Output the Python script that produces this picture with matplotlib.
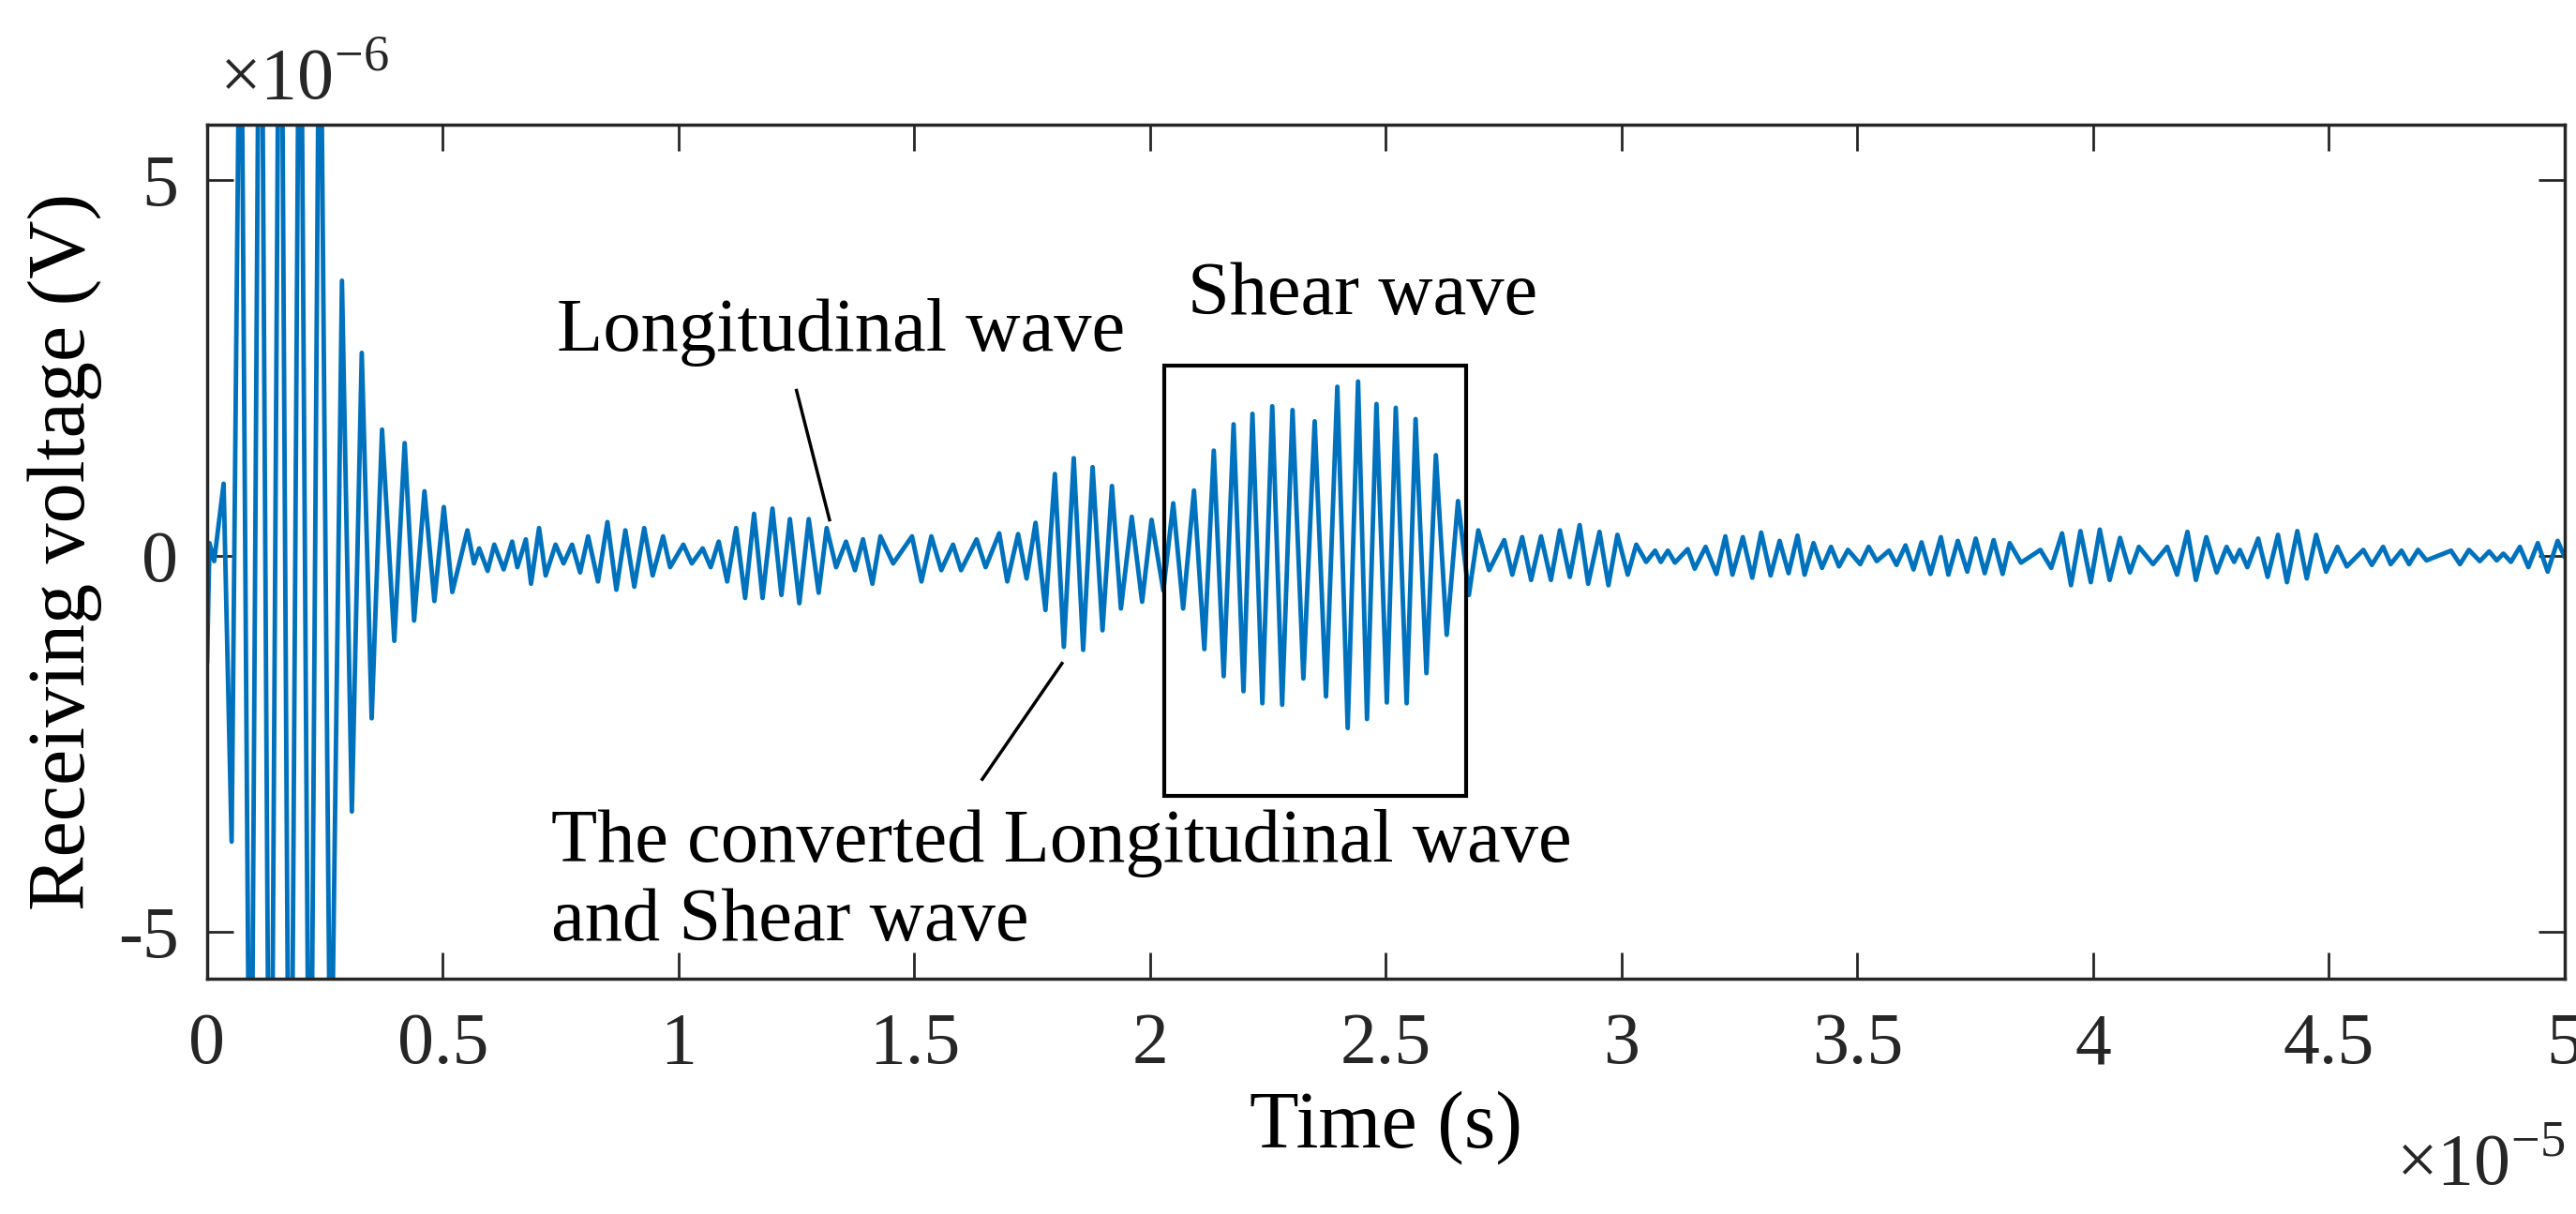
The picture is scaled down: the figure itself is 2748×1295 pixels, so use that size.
import numpy as np
import matplotlib
matplotlib.use("Agg")
import matplotlib.pyplot as plt
from matplotlib.patches import Rectangle

# Extrema of the received waveform (time in us, voltage in uV)
early_t = [0.0, 0.05, 0.15, 0.35, 0.52, 0.71, 0.92, 1.13, 1.34, 1.55, 1.76, 1.97, 2.18,
           2.39, 2.62, 2.86, 3.07, 3.28, 3.49, 3.71, 3.97, 4.19, 4.39, 4.61, 4.82, 5.02, 5.2]
early_v = [-1.4, 0.17, -0.07, 0.96, -3.8, 9.0, -10.0, 11.0, -11.0, 11.0, -11.0, 10.0, -10.0,
           9.0, -8.0, 3.66, -3.4, 2.7, -2.16, 1.68, -1.13, 1.5, -0.86, 0.86, -0.6, 0.65, -0.48]

long_t = [5.52, 5.66, 5.77, 5.95, 6.09, 6.29, 6.47, 6.58, 6.76, 6.87, 7.04, 7.18, 7.39, 7.56,
          7.74, 7.91, 8.08, 8.29, 8.49, 8.68, 8.87, 9.06, 9.27, 9.45, 9.67, 9.82, 10.1, 10.28,
          10.51, 10.68, 10.85, 11.03, 11.22, 11.41, 11.6, 11.78, 11.99, 12.18, 12.36, 12.56,
          12.76, 12.97, 13.14, 13.34, 13.55, 13.74, 13.91, 14.11, 14.28, 14.55, 14.95, 15.15,
          15.36, 15.57, 15.82, 15.99, 16.32, 16.51, 16.8, 16.97]
long_v = [0.34, -0.1, 0.1, -0.2, 0.15, -0.18, 0.19, -0.15, 0.22, -0.37, 0.37, -0.26, 0.15, -0.1,
          0.15, -0.22, 0.26, -0.34, 0.45, -0.45, 0.34, -0.41, 0.37, -0.26, 0.26, -0.15, 0.15, -0.1,
          0.1, -0.15, 0.19, -0.34, 0.37, -0.56, 0.56, -0.56, 0.63, -0.52, 0.49, -0.63,
          0.49, -0.49, 0.37, -0.15, 0.19, -0.19, 0.22, -0.37, 0.26, -0.1, 0.26, -0.34,
          0.26, -0.19, 0.15, -0.19, 0.22, -0.15, 0.3, -0.34]

shear_t = [17.2, 17.38, 17.57, 17.78, 17.98, 18.17, 18.38, 18.58, 18.78, 18.99, 19.19, 19.38,
           19.61, 19.83, 20.03, 20.28, 20.49, 20.7, 20.93, 21.15, 21.35, 21.56, 21.77, 21.98,
           22.17, 22.38, 22.59, 22.8, 23.02, 23.25, 23.49, 23.73, 23.97, 24.19, 24.41, 24.6,
           24.8, 25.02, 25.21, 25.44, 25.63, 25.86, 26.06, 26.29, 26.53, 26.76, 26.96, 27.19]
shear_v = [0.29, -0.3, 0.44, -0.72, 1.09, -1.21, 1.3, -1.25, 1.18, -0.99, 0.93, -0.7,
           0.52, -0.61, 0.48, -0.46, 0.7, -0.7, 0.87, -1.24, 1.4, -1.6, 1.75, -1.8,
           1.89, -1.96, 1.99, -1.98, 1.94, -1.63, 1.79, -1.87, 2.25, -2.29, 2.32, -2.17,
           2.02, -1.95, 1.97, -1.96, 1.82, -1.56, 1.34, -1.05, 0.73, -0.52, 0.34, -0.19]

tail_t = [27.51, 27.68, 27.89, 28.08, 28.29, 28.5, 28.69, 28.9, 29.11, 29.29, 29.53, 29.72,
          29.91, 30.13, 30.31, 30.52, 30.71, 30.83, 30.98, 31.13, 31.4, 31.55, 31.78, 32.01,
          32.2, 32.35, 32.57, 32.77, 32.96, 33.16, 33.35, 33.54, 33.73, 33.88, 34.07, 34.25,
          34.44, 34.61, 34.8, 35.06, 35.24, 35.41, 35.67, 35.83, 36.02, 36.19, 36.36, 36.55,
          36.77, 36.93, 37.13, 37.33, 37.51, 37.7, 37.89, 38.08,
          38.23, 38.47, 38.88, 39.11, 39.34, 39.53, 39.73, 39.95, 40.14, 40.35, 40.57, 40.78,
          40.97, 41.27, 41.57, 41.78, 42.0, 42.18, 42.4, 42.62, 42.83, 42.99, 43.11, 43.27,
          43.5, 43.7, 43.92, 44.11, 44.33, 44.53, 44.73, 44.94, 45.18, 45.38, 45.73, 45.91,
          46.15, 46.31, 46.54, 46.7, 46.89, 47.07, 47.59, 47.78, 47.97, 48.2, 48.4, 48.56,
          48.7, 48.86, 49.05, 49.23, 49.43, 49.64, 49.85, 49.99]
tail_v = [0.21, -0.25, 0.25, -0.32, 0.26, -0.32, 0.34, -0.28, 0.41, -0.37, 0.32, -0.39,
          0.28, -0.25, 0.15, -0.08, 0.07, -0.08, 0.07, -0.09, 0.09, -0.17, 0.12, -0.24,
          0.26, -0.25, 0.25, -0.29, 0.31, -0.26, 0.2, -0.23, 0.27, -0.25, 0.17, -0.16,
          0.12, -0.14, 0.08, -0.11, 0.12, -0.07, 0.07, -0.12, 0.14, -0.18, 0.18, -0.24,
          0.25, -0.25, 0.2, -0.21, 0.23, -0.23, 0.21, -0.24,
          0.17, -0.09, 0.08, -0.16, 0.3, -0.39, 0.33, -0.35, 0.35, -0.32, 0.24, -0.22,
          0.12, -0.11, 0.12, -0.25, 0.32, -0.32, 0.25, -0.22, 0.12, -0.08, 0.08, -0.15,
          0.23, -0.28, 0.28, -0.35, 0.33, -0.3, 0.28, -0.21, 0.12, -0.14, 0.08, -0.12,
          0.12, -0.11, 0.07, -0.11, 0.08, -0.06, 0.07, -0.11, 0.08, -0.07, 0.06, -0.06,
          0.03, -0.08, 0.12, -0.15, 0.17, -0.21, 0.2, 0.0]

xtick_vals = [0, 0.5, 1, 1.5, 2, 2.5, 3, 3.5, 4, 4.5, 5]
ytick_vals = [-5, 0, 5]

plt.rcParams["font.family"] = ["Liberation Serif", "DejaVu Serif"]
plt.rcParams["mathtext.fontset"] = "custom"
plt.rcParams["mathtext.rm"] = "Liberation Serif"

fig = plt.figure(figsize=(27.48, 12.95), dpi=100)
ax = fig.add_axes([0.0804, 0.194, 0.9152, 0.703])

t = np.array(early_t + long_t + shear_t + tail_t) * 1e-6
v = np.array(early_v + long_v + shear_v + tail_v) * 1e-6
ax.plot(t, v, color="#0072BD", lw=3.5)

ax.set_xlim(0, 5e-5)
ax.set_ylim(-5.62e-6, 5.73e-6)
ax.set_xticks([x * 1e-5 for x in xtick_vals])
ax.set_xticklabels([f"{x:g}" for x in xtick_vals])
ax.set_yticks([y * 1e-6 for y in ytick_vals])
ax.set_yticklabels([f"{y:g}" for y in ytick_vals])
ax.tick_params(direction="in", length=20, width=2, labelsize=56,
               top=True, right=True, colors="#262626")
ax.tick_params(axis="x", pad=26)
ax.tick_params(axis="y", pad=22)
for s in ax.spines.values():
    s.set_linewidth(2.5)
    s.set_color("#262626")

ax.set_xlabel("Time (s)", fontsize=62, labelpad=8)
ax.set_ylabel("Receiving voltage (V)", fontsize=62, labelpad=12)
ax.text(0.005, 1.012, r"$\times\mathrm{10}^{\mathrm{-6}}$", transform=ax.transAxes,
        fontsize=56, ha="left", va="bottom", color="#262626")
fig.text(0.9956, 0.025, r"$\times\mathrm{10}^{\mathrm{-5}}$", fontsize=56,
         ha="right", va="baseline", color="#262626")

fs = 58
ax.text(13.45e-6, 2.97e-6, "Longitudinal wave", fontsize=fs, ha="center", va="center")
ax.plot([12.5e-6, 13.2e-6], [2.2e-6, 0.48e-6], color="black", lw=2.5)
ax.text(24.5e-6, 3.46e-6, "Shear wave", fontsize=fs, ha="center", va="center")
ax.add_patch(Rectangle((20.3e-6, -3.19e-6), 6.4e-6, 5.72e-6, fill=False,
                       edgecolor="black", lw=3, zorder=3))
ax.text(7.3e-6, -4.34e-6, "The converted Longitudinal wave\nand Shear wave",
        fontsize=fs, ha="left", va="center", linespacing=1.2)
ax.plot([16.44e-6, 18.13e-6], [-2.97e-6, -1.43e-6], color="black", lw=2.5)

fig.savefig("out.png", dpi=100)
